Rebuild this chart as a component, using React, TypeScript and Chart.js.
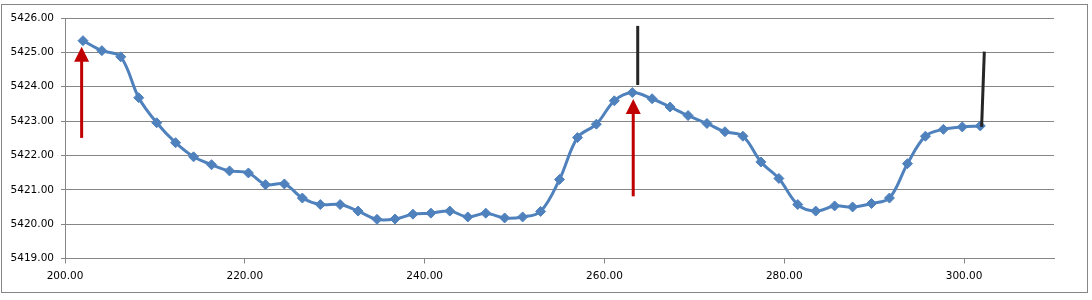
import React, { useEffect, useRef } from "react";
import { Chart, registerables } from "chart.js";

Chart.register(...registerables);

const xValues = [202.0, 204.1, 206.2, 208.2, 210.2, 212.3, 214.3, 216.3, 218.3, 220.4, 222.3, 224.4, 226.4, 228.4, 230.6, 232.6, 234.7, 236.7, 238.7, 240.7, 242.8, 244.8, 246.8, 248.9, 250.9, 252.9, 255.0, 257.0, 259.1, 261.1, 263.1, 265.3, 267.3, 269.3, 271.4, 273.4, 275.4, 277.4, 279.4, 281.5, 283.5, 285.6, 287.6, 289.7, 291.7, 293.7, 295.7, 297.7, 299.8, 301.8];
const yValues = [5425.34, 5425.05, 5424.87, 5423.68, 5422.95, 5422.37, 5421.96, 5421.73, 5421.55, 5421.49, 5421.15, 5421.17, 5420.76, 5420.57, 5420.57, 5420.38, 5420.14, 5420.15, 5420.29, 5420.32, 5420.38, 5420.21, 5420.32, 5420.18, 5420.21, 5420.37, 5421.30, 5422.52, 5422.91, 5423.59, 5423.83, 5423.65, 5423.41, 5423.16, 5422.93, 5422.69, 5422.56, 5421.81, 5421.33, 5420.57, 5420.38, 5420.53, 5420.50, 5420.60, 5420.76, 5421.76, 5422.56, 5422.76, 5422.83, 5422.86];

// red arrows (tail -> tip)
const arrowX = [201.85, 263.2];
const arrowFromY = [5422.51, 5420.81];
const arrowToY = [5425.16, 5423.64];

// black marker lines
const markX1 = [263.7, 301.95];
const markY1 = [5424.05, 5422.83];
const markX2 = [263.7, 302.25];
const markY2 = [5425.77, 5425.02];

const xMin = 200;
const xMax = 310;
const xStep = 20;
const yMin = 5419;
const yMax = 5426;
const yStep = 1;

const annotationPlugin = {
  id: "annotations",
  afterDatasetsDraw(chart: any) {
    const ctx = chart.ctx;
    const xs = chart.scales.x;
    const ys = chart.scales.y;
    ctx.save();
    // black lines
    ctx.strokeStyle = "#262626";
    ctx.lineWidth = 3;
    for (let i = 0; i < markX1.length; i++) {
      ctx.beginPath();
      ctx.moveTo(xs.getPixelForValue(markX1[i]), ys.getPixelForValue(markY1[i]));
      ctx.lineTo(xs.getPixelForValue(markX2[i]), ys.getPixelForValue(markY2[i]));
      ctx.stroke();
    }
    // red arrows
    const headLen = 15;
    const headHalf = 7.5;
    ctx.strokeStyle = "#C00000";
    ctx.fillStyle = "#C00000";
    for (let i = 0; i < arrowX.length; i++) {
      const px = xs.getPixelForValue(arrowX[i]);
      const y0 = ys.getPixelForValue(arrowFromY[i]);
      const y1 = ys.getPixelForValue(arrowToY[i]);
      ctx.lineWidth = 3;
      ctx.beginPath();
      ctx.moveTo(px, y0);
      ctx.lineTo(px, y1 + headLen - 1);
      ctx.stroke();
      ctx.beginPath();
      ctx.moveTo(px, y1);
      ctx.lineTo(px - headHalf, y1 + headLen);
      ctx.lineTo(px + headHalf, y1 + headLen);
      ctx.closePath();
      ctx.fill();
    }
    ctx.restore();
  },
};

export default function App() {
  const ref = useRef<HTMLCanvasElement | null>(null);
  useEffect(() => {
    if (!ref.current) return;
    const font = { family: "'DejaVu Sans'", size: 10.5 };
    const chart = new Chart(ref.current, {
      type: "line",
      data: {
        datasets: [
          {
            data: xValues.map((x, i) => ({ x, y: yValues[i] })),
            borderColor: "#4F81BD",
            backgroundColor: "#4F81BD",
            borderWidth: 3,
            pointStyle: "rectRot",
            pointRadius: 5,
            pointBorderWidth: 1,
            pointBackgroundColor: "#4F81BD",
            pointBorderColor: "#4F81BD",
            tension: 0.35,
            fill: false,
          },
        ],
      },
      options: {
        animation: false,
        responsive: false,
        maintainAspectRatio: false,
        layout: { padding: { top: 18, right: 38, left: 0, bottom: 0 } },
        plugins: { legend: { display: false }, tooltip: { enabled: false } },
        scales: {
          x: {
            type: "linear",
            min: xMin,
            max: xMax,
            afterFit: (s: any) => {
              s.height = 41.5;
            },
            ticks: {
              stepSize: xStep,
              includeBounds: false,
              font,
              color: "#000000",
              padding: 6,
              maxRotation: 0,
              callback: (v: any) => Number(v).toFixed(2),
            },
            grid: {
              drawOnChartArea: false,
              drawTicks: true,
              tickLength: 5,
              color: "#868686",
            },
            border: { color: "#868686", width: 1 },
          },
          y: {
            min: yMin,
            max: yMax,
            afterFit: (s: any) => {
              s.width = 65;
            },
            ticks: {
              stepSize: yStep,
              font,
              color: "#000000",
              padding: 7,
              callback: (v: any) => Number(v).toFixed(2),
            },
            grid: { color: "#868686", drawTicks: true, tickLength: 4, lineWidth: 1 },
            border: { color: "#868686", width: 1 },
          },
        },
      },
      plugins: [annotationPlugin],
    });
    return () => chart.destroy();
  }, []);
  return (
    <div style={{ position: "absolute", left: 0, top: 0, width: 1092, height: 300, background: "#fff" }}>
      <div
        style={{
          position: "absolute",
          left: 1,
          top: 4,
          width: 1087,
          height: 289,
          boxSizing: "border-box",
          border: "1px solid #868686",
        }}
      />
      <canvas ref={ref} width={1092} height={300} style={{ position: "absolute", left: 0, top: 0 }} />
    </div>
  );
}
